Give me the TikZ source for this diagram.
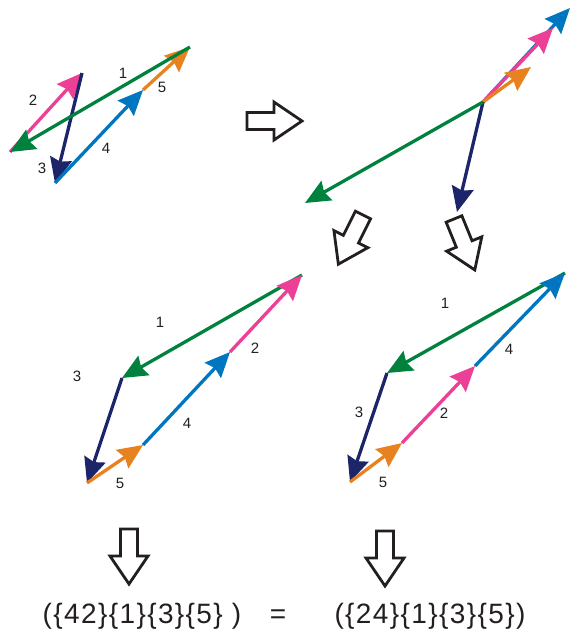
\documentclass[tikz,border=0pt]{standalone}
\usepackage{fontspec}
\setmainfont{Liberation Sans}
\newfontfamily\eqfont[LetterSpace=5]{Liberation Sans}
\usepackage{tikz}
\usetikzlibrary{arrows.meta}
\definecolor{vgreen}{RGB}{0,130,62}
\definecolor{vpink}{RGB}{236,64,151}
\definecolor{vnavy}{RGB}{28,37,106}
\definecolor{vblue}{RGB}{0,118,192}
\definecolor{vorange}{RGB}{232,130,30}
\definecolor{ink}{RGB}{35,31,32}
\def\blockarrow[#1](#2)(#3){\draw[#1, shift={(#2)}, rotate=#3] (0,-8.5) -- (27,-8.5) -- (27,-19) -- (55,0) -- (27,19) -- (27,8.5) -- (0,8.5) -- cycle;}

\begin{document}
\begin{tikzpicture}[x=1pt, y=-1pt,
	vec/.style={line width=3.3pt, -{Stealth[length=25pt, width=22pt, inset=3pt]}},
	lab/.style={text=ink, font=\fontsize{15}{17}\selectfont, inner sep=0pt},
	hollow/.style={line width=2.8pt, draw=ink, fill=white, line join=miter}]
			%%%%% START %%%%%
			\useasboundingbox (0,0) rectangle (571,641);
			
			% first sum, in order 2 3 4 5 1
			\coordinate (a0) at (10,152);
			\coordinate (a1) at (82,73);
			\coordinate (a2) at (55,183);
			\coordinate (a3) at (143,90);
			\coordinate (a4) at (190,47);
			\draw[vec, vpink] (a0) -- (a1);
			\draw[vec, vnavy] (a1) -- (a2);
			\draw[vec, vblue] (a2) -- (a3);
			\draw[vec, vorange] (a3) -- (a4);
			\draw[vec, vgreen] (a4) -- (a0);
			\node[lab] (a1lab) at (123,73) {1};
			\node[lab] (a2lab) at (33,100) {2};
			\node[lab] (a3lab) at (42,168) {3};
			\node[lab] (a4lab) at (106,148) {4};
			\node[lab] (a5lab) at (162,87) {5};
			
			\blockarrow[hollow](247,121)(0)
			
			% all vectors from one point
			\coordinate (o) at (483,102);
			\coordinate (o1) at (305,203);
			\coordinate (o2) at (553,28);
			\coordinate (o3) at (457,212);
			\coordinate (o4) at (570,8);
			\coordinate (o5) at (531,67);
			\draw[vec, vblue] (o) -- (o4);
			\draw[vec, vpink] (o) -- (o2);
			\draw[vec, vorange] (o) -- (o5);
			\draw[vec, vnavy] (o) -- (o3);
			\draw[vec, vgreen] (o) -- (o1);
			
			\blockarrow[hollow](363,215)(-116.6)
			\blockarrow[hollow](454,219)(-67.8)
			
			% second sum, in order 1 3 5 4 2
			\coordinate (b0) at (302,275);
			\coordinate (b1) at (122,378);
			\coordinate (b2) at (87,483);
			\coordinate (b3) at (143,445);
			\coordinate (b4) at (230,352);
			\draw[vec, vgreen] (b0) -- (b1);
			\draw[vec, vnavy] (b1) -- (b2);
			\draw[vec, vorange] (b2) -- (b3);
			\draw[vec, vblue] (b3) -- (b4);
			\draw[vec, vpink] (b4) -- (b0);
			\node[lab] (b1lab) at (160,322) {1};
			\node[lab] (b2lab) at (255,348) {2};
			\node[lab] (b3lab) at (77,376) {3};
			\node[lab] (b4lab) at (187,423) {4};
			\node[lab] (b5lab) at (120,483) {5};
			
			% third sum, in order 1 3 5 2 4
			\coordinate (c0) at (565,273);
			\coordinate (c1) at (387,373);
			\coordinate (c2) at (350,482);
			\coordinate (c3) at (402,443);
			\coordinate (c4) at (475,366);
			\draw[vec, vgreen] (c0) -- (c1);
			\draw[vec, vnavy] (c1) -- (c2);
			\draw[vec, vorange] (c2) -- (c3);
			\draw[vec, vpink] (c3) -- (c4);
			\draw[vec, vblue] (c4) -- (c0);
			\node[lab] (c1lab) at (445,303) {1};
			\node[lab] (c2lab) at (444,413) {2};
			\node[lab] (c3lab) at (359,412) {3};
			\node[lab] (c4lab) at (509,349) {4};
			\node[lab] (c5lab) at (383,482) {5};
			
			\blockarrow[hollow](129,529)(-90)
			\blockarrow[hollow](385,531)(-90)
			
			\node[text=ink, font=\eqfont\fontsize{28}{32}\selectfont, anchor=base] (lhs) at (142,623) {(\{42\}\{1\}\{3\}\{5\} )};
			\node[text=ink, font=\eqfont\fontsize{28}{32}\selectfont, anchor=base] (eq) at (278,623) {=};
			\node[text=ink, font=\eqfont\fontsize{28}{32}\selectfont, anchor=base] (rhs) at (430,623) {(\{24\}\{1\}\{3\}\{5\})};
			
			%%%%% END %%%%%
\end{tikzpicture}
\end{document}
